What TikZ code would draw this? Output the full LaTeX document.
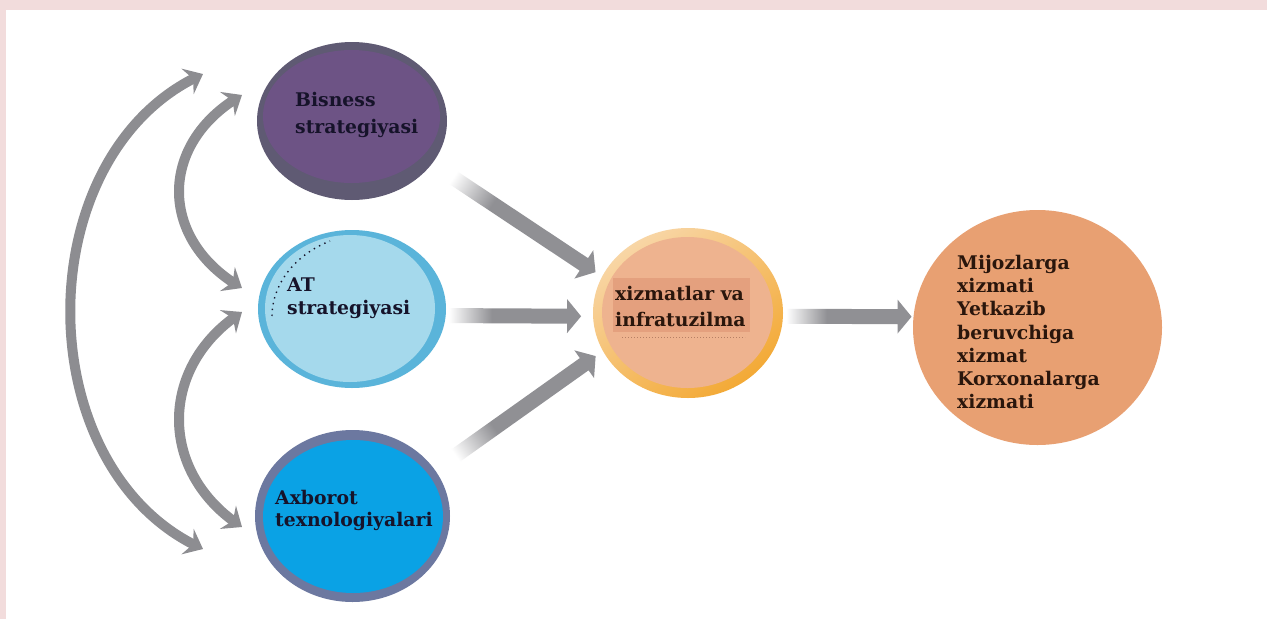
\documentclass[tikz,border=0pt]{standalone}
\usepackage{fontspec}
\setmainfont{DejaVu Serif}
\usetikzlibrary{shapes.geometric,arrows.meta,calc,bending}

\definecolor{framepink}{HTML}{F2DCDC}
\definecolor{loopgray}{HTML}{8D8D91}
\definecolor{flowgray}{HTML}{909094}
\definecolor{bisring}{HTML}{5F5A73}
\definecolor{bisfill}{HTML}{6D5385}
\definecolor{atring}{HTML}{5AB4DA}
\definecolor{atfill}{HTML}{A5D9EC}
\definecolor{axring}{HTML}{6C78A0}
\definecolor{axfill}{HTML}{0AA2E5}
\definecolor{xizlight}{HTML}{F8D6A6}
\definecolor{xizring}{HTML}{F3A935}
\definecolor{xizfill}{HTML}{EEB38F}
\definecolor{xizbox}{HTML}{E4A07E}
\definecolor{resfill}{HTML}{E8A072}
\definecolor{darktext}{HTML}{16132A}
\definecolor{browntext}{HTML}{2A160C}

% fading gray for the thick flow arrows: white tail, gray body
\pgfdeclarehorizontalshading{flowfade}{100bp}{color(0bp)=(white); color(26bp)=(white); color(42bp)=(flowgray); color(100bp)=(flowgray)}

\pgfdeclarelayer{frame}
\pgfdeclarelayer{back}
\pgfsetlayers{frame,back,main}

% thick shaded arrow from #1 towards #2, stopping #3 short of it
\newcommand\flowarrow[3]{%
  \coordinate (fa-t) at (#1);
  \coordinate (fa-p) at ($(#2)!#3!(#1)$);
  \coordinate (fa-h) at ($(fa-p)!14pt!(fa-t)$);
  \pgfmathanglebetweenpoints{\pgfpointanchor{fa-t}{center}}{\pgfpointanchor{fa-p}{center}}%
  \edef\flowangle{\pgfmathresult}%
  \shade[shading=flowfade, shading angle=\flowangle]
    ($(fa-t)!7.5pt!90:(fa-p)$) -- ($(fa-h)!7.5pt!90:(fa-p)$) -- ($(fa-h)!17pt!90:(fa-p)$)
    -- (fa-p) -- ($(fa-h)!17pt!-90:(fa-p)$) -- ($(fa-h)!7.5pt!-90:(fa-p)$)
    -- ($(fa-t)!7.5pt!-90:(fa-p)$) -- cycle;
}

\tikzset{
  disc/.style={ellipse, inner sep=0pt, outer sep=0pt, draw=none},
  lbl/.style={inner sep=0pt, anchor=west, align=left, font=\bfseries\fontsize{18.8}{#1}\selectfont},
  lbl/.default=23,
  looparrow/.style={draw=loopgray, line width=10pt,
    {Stealth[length=17pt,width=28pt,inset=6pt]}-{Stealth[length=17pt,width=28pt,inset=6pt]}},
}

\begin{document}
\begin{tikzpicture}[x=1pt,y=-1pt]
\useasboundingbox (0,0) rectangle (1267,619);

\begin{pgfonlayer}{frame}
  \fill[framepink] (0,0) rectangle (1267,619);
  \fill[white] (6,10) rectangle (1267,619);
\end{pgfonlayer}

% strategy circles
\node[disc, minimum width=190pt, minimum height=158pt, fill=bisring] (bis) at (352,121) {};
\node[disc, minimum width=177pt, minimum height=133pt, fill=bisfill] (bisin) at (351.5,116.5) {};
\node[lbl=27, text=darktext] (bistx) at (295,115) {Bisness\\strategiyasi};

\node[disc, minimum width=188pt, minimum height=158pt, fill=atring] (at) at (352,309) {};
\node[disc, minimum width=170pt, minimum height=147pt, fill=atfill] (atin) at (350,308.5) {};
\node[lbl, text=darktext] (attx) at (287,298) {AT\\strategiyasi};
\draw[darktext, line width=1.4pt, dash pattern=on 1.4pt off 4.5pt] (272,316) .. controls (272,287) and (292,256) .. (330,241);

\node[disc, minimum width=195pt, minimum height=172pt, fill=axring] (axb) at (352.5,516) {};
\node[disc, minimum width=180pt, minimum height=153pt, fill=axfill] (axbin) at (353,516.5) {};
\node[lbl=22, text=darktext] (axbtx) at (275,510) {Axborot\\texnologiyalari};

% services and infrastructure
\shade[top color=xizlight, bottom color=xizring, shading angle=35]
  (688,313) ellipse [x radius=95, y radius=85];
\node[disc, minimum width=190pt, minimum height=170pt] (xiz) at (688,313) {};
\node[disc, minimum width=171pt, minimum height=151pt, fill=xizfill] (xizin) at (687.5,312.5) {};
\node[fill=xizbox, inner sep=0pt, minimum width=137pt, minimum height=54pt] (xizbg) at (681.5,305) {};
\draw[xizbox!80!black, line width=1pt, dotted] (622,337) -- (745,337);
\node[lbl=26, text=browntext] (xiztx) at (615,306) {xizmatlar va\\infratuzilma};

% resulting services
\node[disc, minimum width=249pt, minimum height=235pt, fill=resfill] (res) at (1037.5,327.5) {};
\node[lbl=23.3, text=browntext] (restx) at (957,332)
  {Mijozlarga\\xizmati\\Yetkazib\\beruvchiga\\xizmat\\Korxonalarga\\xizmati};

% flow arrows into and out of the centre
\begin{pgfonlayer}{back}
  \flowarrow{bis.-28}{xiz.157}{8pt}
  \flowarrow{at.-4}{xiz.182}{12pt}
  \flowarrow{axb.29}{xiz.-156}{9pt}
  \flowarrow{xiz.-2}{res.175}{2pt}
\end{pgfonlayer}

% two-way links between the three strategies
\coordinate (oa) at (203,74);
\coordinate (ob) at (203,549);
\coordinate (ua) at (242,95);
\coordinate (ub) at (242,288);
\coordinate (la) at (242,312);
\coordinate (lb) at (242,527);
\draw[looparrow] (ob) .. controls (26,470) and (26,153) .. (oa);
\draw[looparrow] (ub) .. controls (158,240) and (158,143) .. (ua);
\draw[looparrow] (lb) .. controls (158,473) and (158,366) .. (la);
\end{tikzpicture}
\end{document}
